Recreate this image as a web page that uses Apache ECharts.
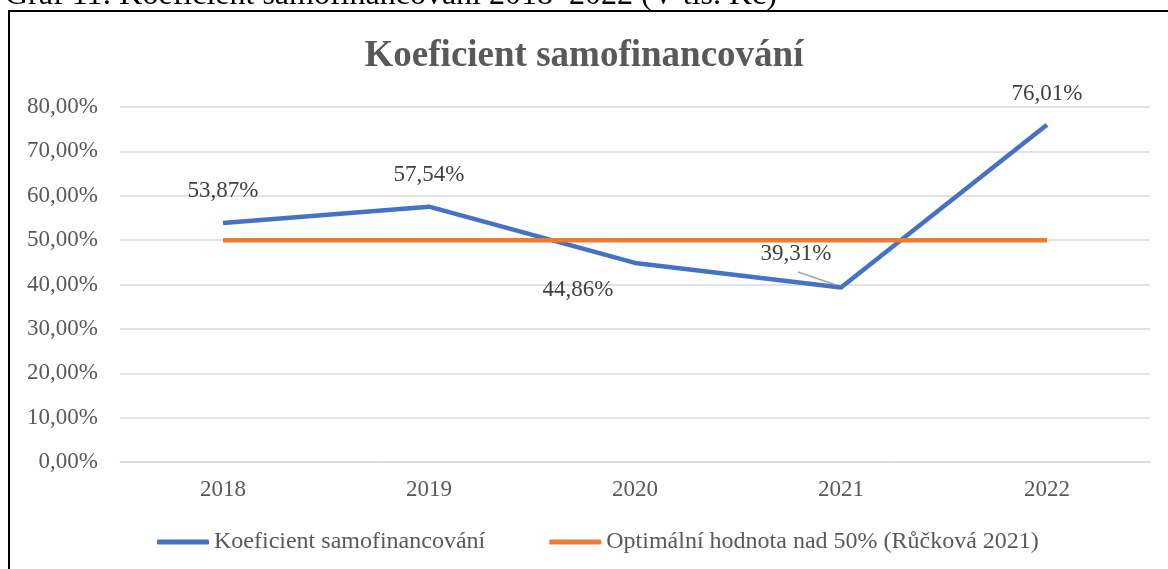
<!DOCTYPE html>
<html><head><meta charset="utf-8">
<script src="https://cdn.jsdelivr.net/npm/echarts@6/dist/echarts.min.js"></script>
<style>html,body{margin:0;padding:0;background:#fff}#c{width:1168px;height:569px}</style>
</head><body><div id="c"></div>
<script>
const years = ['2018','2019','2020','2021','2022'];
const koef = [53.87, 57.54, 44.86, 39.31, 76.01];
const optimal = [50, 50, 50, 50, 50];
const yTicks = [0,10,20,30,40,50,60,70,80];
const serif = '"Liberation Serif","Times New Roman",serif';
const fmt = v => v.toFixed(2).replace('.', ',') + '%';
const labelPos = [
  {position:'top', offset:[0,-15]},
  {position:'top', offset:[0,-15]},
  {position:'bottom', offset:[-57,10]},
  {position:'top', offset:[-45,-17]},
  {position:'top', offset:[0,-14]}
];
const chart = echarts.init(document.getElementById('c'));
chart.setOption({
  animation:false,
  backgroundColor:'#fff',
  title:{text:'Koeficient samofinancování', left:'center', top:33,
    textStyle:{fontFamily:serif, fontSize:37, fontWeight:'bold', color:'#595959'}},
  graphic:[
    {type:'rect', shape:{x:9,y:11,width:1170,height:600}, style:{fill:'none', stroke:'#000', lineWidth:2}, silent:true},
    {type:'text', x:5, y:12, style:{text:'Graf 11: Koeficient samofinancování 2018–2022 (V tis. Kč)', font:'32px "Liberation Serif", serif', fill:'#000', verticalAlign:'bottom'}},
    {type:'line', shape:{x1:798,y1:272,x2:842,y2:287}, style:{stroke:'#a6a6a6', lineWidth:1.5}}
  ],
  grid:{left:120, right:18, top:107, bottom:107},
  legend:{bottom:10, left:152, itemGap:64, itemWidth:52, itemHeight:5,
    textStyle:{fontFamily:serif, fontSize:24, color:'#595959'},
    data:[{name:'Koeficient samofinancování', icon:'roundRect'},{name:'Optimální hodnota nad 50% (Růčková 2021)', icon:'roundRect'}]},
  xAxis:{type:'category', data:years, boundaryGap:true,
    axisLine:{lineStyle:{color:'#d9d9d9'}}, axisTick:{show:false},
    axisLabel:{fontFamily:serif, fontSize:23, color:'#595959', margin:16}},
  yAxis:{type:'value', min:0, max:80, interval:10,
    axisLine:{show:false}, axisTick:{show:false},
    splitLine:{lineStyle:{color:'#d9d9d9', width:1.5}},
    axisLabel:{fontFamily:serif, fontSize:23, color:'#595959', margin:22,
      formatter:v=>v.toFixed(2).replace('.', ',')+'%'}},
  series:[
    {name:'Koeficient samofinancování', type:'line', data:koef.map((v,i)=>({value:v, label:labelPos[i]})),
      symbol:'circle', symbolSize:0.1, showSymbol:true, lineStyle:{color:'#4472C4', width:4.5}, itemStyle:{color:'#4472C4'},
      label:{show:true, fontFamily:serif, fontSize:23, color:'#404040', formatter:p=>fmt(p.value)}},
    {name:'Optimální hodnota nad 50% (Růčková 2021)', type:'line', data:optimal,
      symbol:'none', lineStyle:{color:'#ED7D31', width:4.5}, itemStyle:{color:'#ED7D31'}}
  ]
});
</script></body></html>
